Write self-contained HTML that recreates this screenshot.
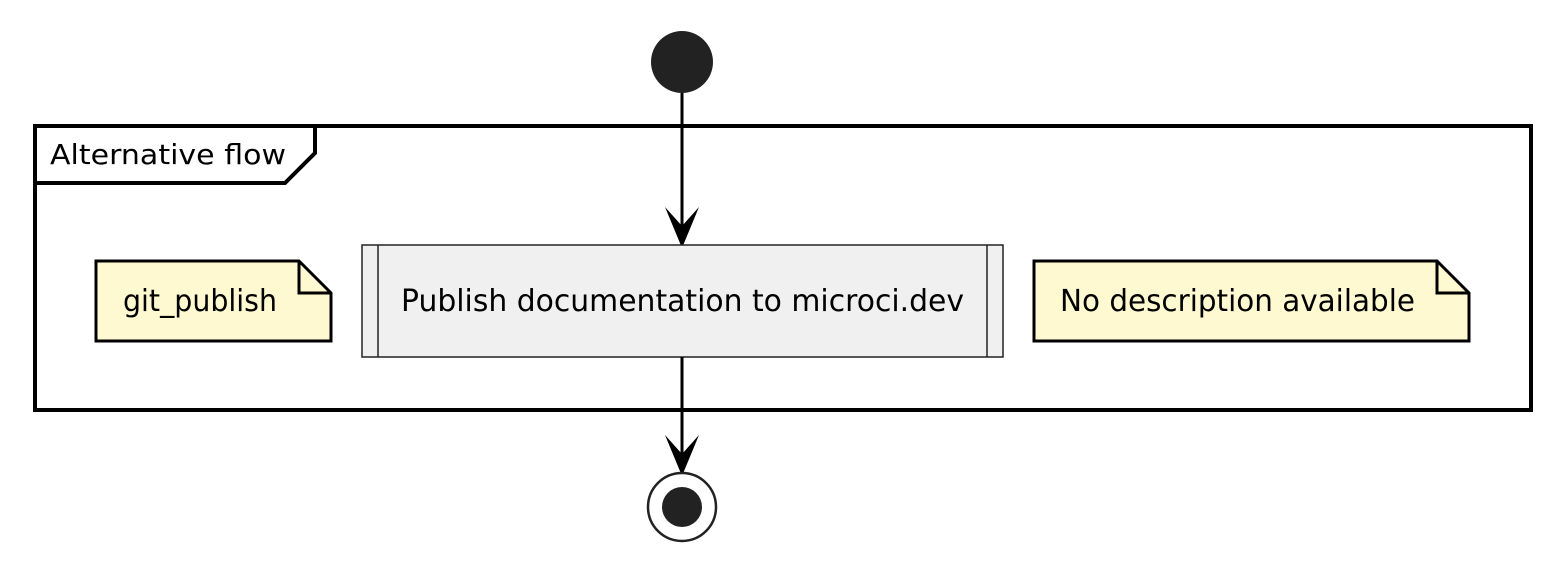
<!DOCTYPE html>
<html><head><meta charset="utf-8"><style>
html,body{margin:0;padding:0;background:#fff;}
svg{display:block;}
text{font-family:"DejaVu Sans","Liberation Sans",sans-serif;fill:#000;}
</style></head><body>
<svg width="1562" height="572" viewBox="0 0 1562 572" xmlns="http://www.w3.org/2000/svg">
<rect width="1562" height="572" fill="#fff"/>
<circle cx="682" cy="62" r="31" fill="#222"/>
<rect x="35" y="126" width="1496" height="284" fill="none" stroke="#000" stroke-width="4"/>
<path d="M35 183 L285 183 L315 153 L315 126" fill="none" stroke="#000" stroke-width="4"/>
<text x="50" y="164" font-size="28" textLength="236" lengthAdjust="spacingAndGlyphs">Alternative flow</text>
<line x1="682" y1="93" x2="682" y2="240" stroke="#000" stroke-width="3"/>
<path d="M665 207 L682 248 L699 207 L682 226 Z" fill="#000"/>
<rect x="362" y="245" width="641" height="112" fill="#f0f0f0" stroke="#222" stroke-width="1.5"/>
<line x1="378" y1="245" x2="378" y2="357" stroke="#222" stroke-width="1.5"/>
<line x1="987" y1="245" x2="987" y2="357" stroke="#222" stroke-width="1.5"/>
<text x="401" y="311" font-size="30" textLength="563" lengthAdjust="spacingAndGlyphs">Publish documentation to microci.dev</text>
<path d="M96 261 L299 261 L331 293 L331 341 L96 341 Z" fill="#fef9d0" stroke="#000" stroke-width="3"/>
<path d="M299 261 L299 293 L331 293" fill="none" stroke="#000" stroke-width="3"/>
<text x="123" y="311" font-size="30" textLength="154" lengthAdjust="spacingAndGlyphs">git_publish</text>
<path d="M1034 261 L1437 261 L1469 293 L1469 341 L1034 341 Z" fill="#fef9d0" stroke="#000" stroke-width="3"/>
<path d="M1437 261 L1437 293 L1469 293" fill="none" stroke="#000" stroke-width="3"/>
<text x="1060" y="311" font-size="30" textLength="355" lengthAdjust="spacingAndGlyphs">No description available</text>
<line x1="682" y1="357" x2="682" y2="468" stroke="#000" stroke-width="3"/>
<path d="M665 435 L682 476 L699 435 L682 454 Z" fill="#000"/>
<circle cx="682" cy="507" r="34" fill="#fff" stroke="#222" stroke-width="2.5"/>
<circle cx="682" cy="507" r="20" fill="#222"/>
</svg>
</body></html>
